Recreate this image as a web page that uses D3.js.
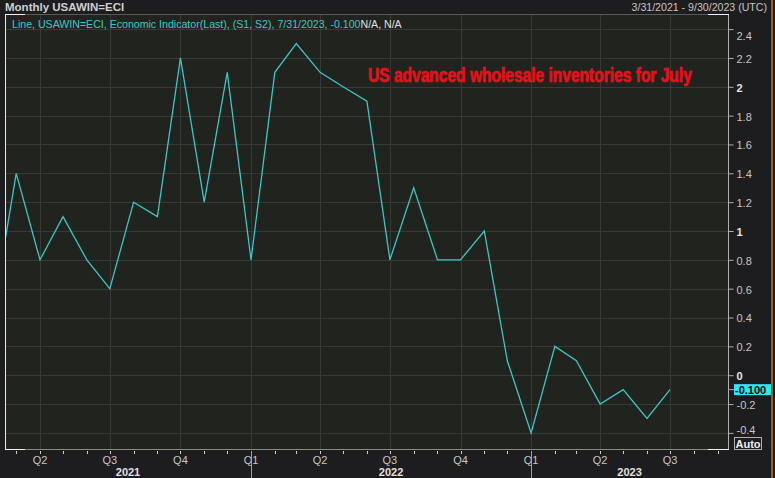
<!DOCTYPE html>
<html>
<head>
<meta charset="utf-8">
<script src="https://cdn.jsdelivr.net/npm/d3@7"></script>
<style>
  html, body { margin: 0; padding: 0; background: #1d1c1e; }
  svg { display: block; }
  text { font-family: "Liberation Sans", Arial, sans-serif; }
</style>
</head>
<body>
<svg id="chart" width="775" height="478"></svg>
<script>
// ---- data ----
const months = ["2021-02","2021-03","2021-04","2021-05","2021-06","2021-07","2021-08","2021-09","2021-10","2021-11","2021-12",
                "2022-01","2022-02","2022-03","2022-04","2022-05","2022-06","2022-07","2022-08","2022-09","2022-10","2022-11","2022-12",
                "2023-01","2023-02","2023-03","2023-04","2023-05","2023-06","2023-07"];
const values = [0.5, 1.4, 0.8, 1.1, 0.8, 0.6, 1.2, 1.1, 2.2, 1.2, 2.1,
                0.8, 2.1, 2.3, 2.1, 2.0, 1.9, 0.8, 1.3, 0.8, 0.8, 1.0, 0.1,
                -0.4, 0.2, 0.1, -0.2, -0.1, -0.3, -0.1];
const yTicks = [-0.4, -0.2, 0, 0.2, 0.4, 0.6, 0.8, 1, 1.2, 1.4, 1.6, 1.8, 2, 2.2, 2.4];
const yearLabels = ["2021", "2022", "2023"];
const lastValueLabel = "-0.100";
const headerText = "Monthly USAWIN=ECI";
const rangeText = "3/31/2021 - 9/30/2023 (UTC)";
const legendText = "Line, USAWIN=ECI, Economic Indicator(Last), (S1, S2), 7/31/2023, -0.100";
const legendTail = "N/A, N/A";
const titleText = "US advanced wholesale inventories for July";

// ---- layout ----
const L = 5, R = 728, T = 15, B = 449;
const parse = d3.utcParse("%Y-%m");
const data = months.map((m, i) => ({ date: parse(m), v: values[i] }));

const svg = d3.select("#chart");
svg.append("rect").attr("width", 775).attr("height", 478).attr("fill", "#1d1c1e");
svg.append("rect").attr("x", L).attr("y", T).attr("width", R - L).attr("height", B - T).attr("fill", "#21231f");

const x = d3.scaleUtc()
  .domain([new Date(Date.UTC(2021, 3, 1)), new Date(Date.UTC(2023, 6, 1))])
  .range([40, 670]);
const y = d3.scaleLinear().domain([-0.4, 2.4]).range([432.9, 29.1]);

const xMin = x.invert(L), xMax = x.invert(R);

svg.append("clipPath").attr("id", "clip")
  .append("rect").attr("x", L).attr("y", T).attr("width", R - L).attr("height", B - T);

// gridlines
const grid = svg.append("g").attr("clip-path", "url(#clip)");
grid.selectAll("line.h").data(yTicks).join("line")
  .attr("x1", L).attr("x2", R)
  .attr("y1", d => Math.round(y(d)) + 0.5).attr("y2", d => Math.round(y(d)) + 0.5)
  .attr("stroke", "#393a38").attr("stroke-width", 1);
const quarters = d3.utcMonth.every(3).range(xMin, xMax);
grid.selectAll("line.v").data(quarters).join("line")
  .attr("x1", d => Math.round(x(d)) + 0.5).attr("x2", d => Math.round(x(d)) + 0.5)
  .attr("y1", T).attr("y2", B)
  .attr("stroke", "#393a38").attr("stroke-width", 1);

// line
const line = d3.line().x(d => x(d.date)).y(d => y(d.v));
svg.append("path").datum(data)
  .attr("clip-path", "url(#clip)")
  .attr("d", line)
  .attr("fill", "none")
  .attr("stroke", "#3cc6c6")
  .attr("stroke-width", 1.3)
  .attr("stroke-linejoin", "miter");

// frame
const frame = svg.append("g");
frame.append("line").attr("x1", L).attr("x2", R).attr("y1", T - 0.5).attr("y2", T - 0.5).attr("stroke", "#5a5a5a");
frame.append("line").attr("x1", L).attr("x2", R).attr("y1", B + 0.5).attr("y2", B + 0.5).attr("stroke", "#8a8a8a");
frame.append("line").attr("x1", L + 0.5).attr("x2", L + 0.5).attr("y1", T - 1).attr("y2", B + 1).attr("stroke", "#e8e8e8");
frame.append("line").attr("x1", R + 0.5).attr("x2", R + 0.5).attr("y1", T - 1).attr("y2", B + 1).attr("stroke", "#b0b0b0");
[[L, T - 0.5, L + 20, T - 0.5], [L, B + 0.5, L + 20, B + 0.5], [R - 20, T - 0.5, R + 1, T - 0.5], [R - 20, B + 0.5, R + 1, B + 0.5]]
  .forEach(c => frame.append("line").attr("x1", c[0]).attr("y1", c[1]).attr("x2", c[2]).attr("y2", c[3]).attr("stroke", "#f0f0f0"));

// y axis (right)
const yAxis = d3.axisRight(y)
  .tickValues(yTicks)
  .tickSize(5)
  .tickPadding(3)
  .tickFormat(d => String(+d.toFixed(1)));
const gy = svg.append("g").attr("transform", `translate(${R + 0.5},0)`).call(yAxis);
gy.select(".domain").remove();
gy.selectAll(".tick line").attr("stroke", "#b0b0b0");
gy.selectAll(".tick text")
  .style("font-size", "11px")
  .style("font-family", "'Liberation Sans', Arial, sans-serif")
  .style("font-weight", d => Number.isInteger(d) ? "bold" : "normal")
  .attr("fill", d => Number.isInteger(d) ? "#e6e6e6" : "#c6c6c6")
  .attr("dy", d => d === 2.4 ? "0.95em" : (d === -0.4 ? "0.05em" : "0.4em"));

// last value box
const lastY = y(values[values.length - 1]);
svg.append("line").attr("x1", R).attr("x2", R + 6).attr("y1", lastY).attr("y2", lastY).attr("stroke", "#00e5ee");
svg.append("rect").attr("x", 734).attr("y", lastY - 5.5).attr("width", 37).attr("height", 11).attr("fill", "#2ee8f0");
svg.append("text").attr("x", 735).attr("y", lastY + 4)
  .attr("fill", "#000").style("font-size", "11px").style("font-weight", "bold").text(lastValueLabel);

// Auto box
svg.append("rect").attr("x", 734.5).attr("y", 437.5).attr("width", 27).attr("height", 12)
  .attr("fill", "none").attr("stroke", "#b0b0b0");
svg.append("text").attr("x", 748).attr("y", 447.5).attr("text-anchor", "middle")
  .attr("fill", "#f0f0f0").style("font-size", "11px").style("font-weight", "bold").text("Auto");

// x axis minor ticks (months)
const monthTicks = d3.utcMonth.range(xMin, xMax);
svg.append("g").selectAll("line").data(monthTicks).join("line")
  .attr("x1", d => Math.round(x(d)) + 0.5).attr("x2", d => Math.round(x(d)) + 0.5)
  .attr("y1", 451).attr("y2", 454)
  .attr("stroke", "#d0d0d0");

// quarter labels
svg.append("g").selectAll("text").data(quarters).join("text")
  .attr("x", d => x(d)).attr("y", 463.5)
  .attr("text-anchor", "middle")
  .attr("fill", "#c6c6c6").style("font-size", "11px")
  .text(d => "Q" + (Math.floor(d.getUTCMonth() / 3) + 1));

// year separators and labels
const yearStarts = d3.utcYear.range(xMin, xMax);
svg.append("g").selectAll("line").data(yearStarts).join("line")
  .attr("x1", d => Math.round(x(d)) + 0.5).attr("x2", d => Math.round(x(d)) + 0.5)
  .attr("y1", 451).attr("y2", 478)
  .attr("stroke", "#a0a0a0");
const bounds = [L, ...yearStarts.map(d => x(d)), R];
svg.append("g").selectAll("text").data(yearLabels).join("text")
  .attr("x", (d, i) => (bounds[i] + bounds[i + 1]) / 2).attr("y", 476)
  .attr("text-anchor", "middle")
  .attr("fill", "#e0e0e0").style("font-size", "11px").style("font-weight", "bold")
  .text(d => d);

// header texts
svg.append("text").attr("x", 5).attr("y", 11)
  .attr("fill", "#cfcfcf").style("font-size", "11.5px").style("font-weight", "bold").text(headerText);
svg.append("text").attr("x", 767).attr("y", 11).attr("text-anchor", "end")
  .attr("fill", "#c6c6c6").style("font-size", "10.6px").text(rangeText);

// legend
const lg = svg.append("text").attr("x", 12).attr("y", 28).style("font-size", "10.6px");
lg.append("tspan").attr("fill", "#3ec8c8").text(legendText);
lg.append("tspan").attr("fill", "#e0e0e0").text(legendTail);

// title annotation (condensed heavy text, compressed horizontally to fit)
const title = svg.append("text")
  .attr("fill", "#e8101a")
  .attr("stroke", "#e8101a").attr("stroke-width", 0.7)
  .style("font-family", "'Liberation Sans Narrow', 'Liberation Sans', sans-serif")
  .style("font-size", "19.5px").style("font-weight", "bold")
  .text(titleText);
const natural = title.node().getComputedTextLength();
title.attr("transform", `translate(368,81.5) scale(${324 / natural},1)`);

// right orange border
svg.append("line").attr("x1", 772).attr("x2", 772).attr("y1", 0).attr("y2", 478)
  .attr("stroke", "#b87a30").attr("stroke-width", 1.5);
</script>
</body>
</html>
